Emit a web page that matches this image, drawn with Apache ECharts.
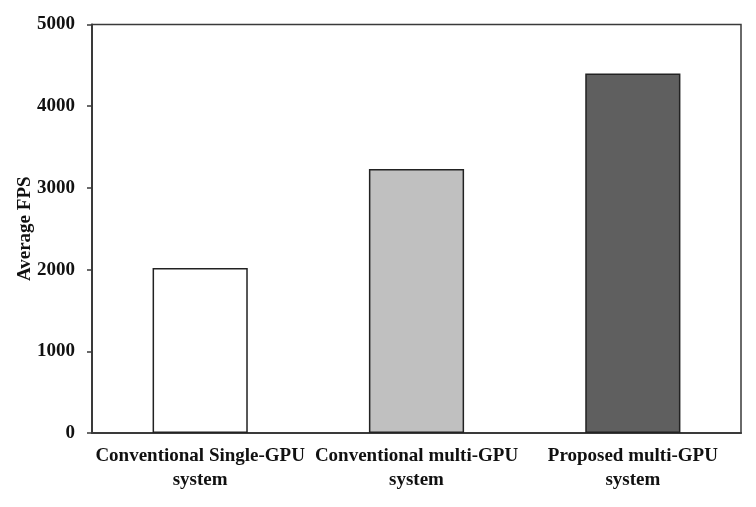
<!DOCTYPE html>
<html>
<head>
<meta charset="utf-8">
<script src="https://cdn.jsdelivr.net/npm/echarts@6/dist/echarts.min.js"></script>
<style>html,body{margin:0;padding:0;background:#fff}#c{width:756px;height:507px}</style>
</head>
<body>
<div id="c"></div>
<script>
const categories = ["Conventional Single-GPU\nsystem", "Conventional multi-GPU\nsystem", "Proposed multi-GPU\nsystem"];
const values = [2020, 3230, 4400];
const barColors = ["#ffffff", "#c0c0c0", "#5f5f5f"];
const yTicks = [0, 1000, 2000, 3000, 4000, 5000];

const font = "'Liberation Serif', 'Times New Roman', serif";
const chart = echarts.init(document.getElementById('c'));
chart.setOption({
  animation: false,
  backgroundColor: '#ffffff',
  grid: { left: 92, right: 15, top: 24.5, bottom: 74, show: true, borderColor: '#3a3a3a', borderWidth: 1.5, backgroundColor: 'transparent' },
  xAxis: {
    type: 'category',
    data: categories,
    axisLine: { show: true, lineStyle: { color: '#3a3a3a', width: 2 } },
    axisTick: { show: false },
    axisLabel: { interval: 0, color: '#111', fontFamily: font, fontWeight: 'bold', fontSize: 19, lineHeight: 24, margin: 11 }
  },
  yAxis: {
    type: 'value',
    min: yTicks[0], max: yTicks[yTicks.length - 1], interval: 1000,
    name: 'Average FPS', nameLocation: 'middle', nameGap: 57, nameMoveOverlap: false,
    nameTextStyle: { color: '#111', fontFamily: font, fontWeight: 'bold', fontSize: 19 },
    axisLine: { show: true, lineStyle: { color: '#3a3a3a', width: 2 } },
    axisTick: { show: true, inside: false, length: 5, lineStyle: { color: '#3a3a3a', width: 1.5 } },
    splitLine: { show: false },
    axisLabel: { color: '#111', fontFamily: font, fontWeight: 'bold', fontSize: 19, margin: 17, formatter: v => String(v) }
  },
  series: [{
    type: 'bar',
    barWidth: '44%',
    data: values.map((v, i) => ({ value: v, itemStyle: { color: barColors[i] } })),
    itemStyle: { borderColor: '#222', borderWidth: 1.5 }
  }]
});
</script>
</body>
</html>
